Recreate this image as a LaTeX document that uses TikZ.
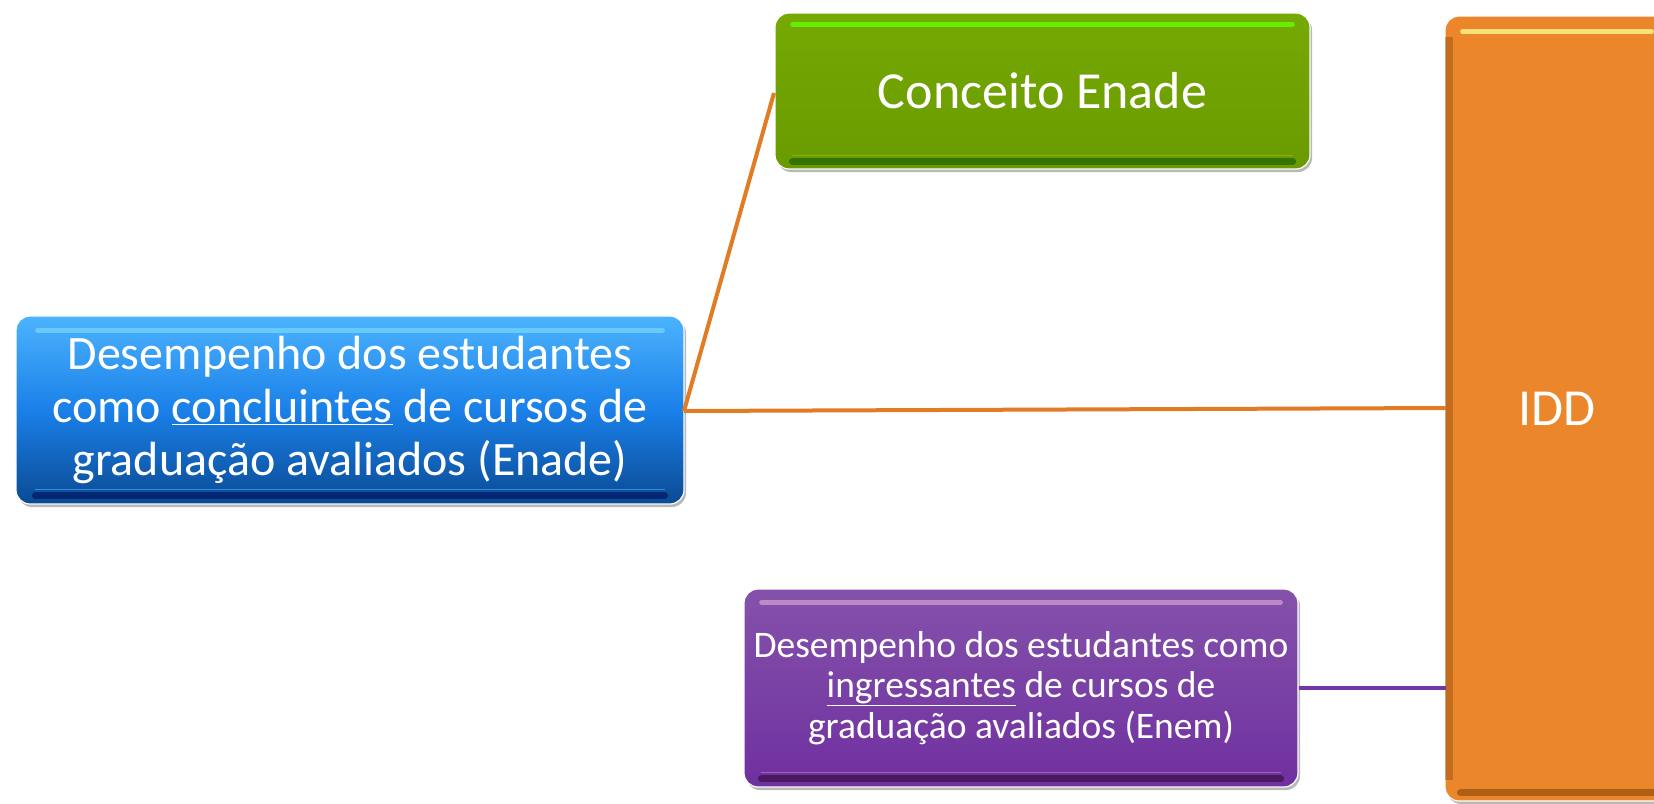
\documentclass[tikz,border=0pt]{standalone}
\usepackage{fontspec}
\setmainfont{Carlito}
\usetikzlibrary{shadows,calc}
\definecolor{bluetop}{HTML}{4CB3FF}
\definecolor{bluemid}{HTML}{1A80E8}
\definecolor{bluebot}{HTML}{0A4A94}
\definecolor{greentop}{HTML}{75A903}
\definecolor{greenbot}{HTML}{699B00}
\definecolor{purptop}{HTML}{8452AA}
\definecolor{purpbot}{HTML}{7030A0}
\definecolor{orangebox}{HTML}{EC862B}
\definecolor{orangeline}{HTML}{E17C25}
\definecolor{purpline}{HTML}{7535A5}
\tikzset{
  boxbase/.style={rectangle, rounded corners=14pt, draw=white, line width=1.2pt,
    text=white, align=center, inner sep=0pt,
    general shadow={shadow xshift=2pt, shadow yshift=-3pt, fill=black, opacity=0.28, scale=1.006}},
  bluebox/.style={boxbase, top color=bluetop, bottom color=bluebot, middle color=bluemid,
    minimum width=668pt, minimum height=188pt, font=\fontsize{48}{53}\selectfont},
  greenbox/.style={boxbase, top color=greentop, bottom color=greenbot,
    minimum width=535pt, minimum height=156pt, font=\fontsize{52}{60}\selectfont},
  purplebox/.style={boxbase, top color=purptop, bottom color=purpbot,
    minimum width=554pt, minimum height=198pt, font=\fontsize{37.5}{40.6}\selectfont},
  orangebox/.style={boxbase, fill=orangebox, minimum width=224pt, minimum height=785pt,
    font=\fontsize{52}{60}\selectfont},
  hilite/.style={line width=4.5pt, line cap=round, opacity=0.8},
  lowband/.style={line width=7pt, line cap=round, opacity=0.5},
  orangeconn/.style={orangeline, line width=4pt},
  purpleconn/.style={purpline, line width=3.5pt}
}
\begin{document}
\begin{tikzpicture}[x=1pt,y=-1pt]
\useasboundingbox (0,0) rectangle (1654,803);
\clip (0,0) rectangle (1654,803);
\fill[white] (0,0) rectangle (1654,803);

\coordinate (j) at (684,411);
\coordinate (gin) at (774,93);
\coordinate (iin) at (1446,408);
\coordinate (iin2) at (1446,688);

\node[orangebox] (idd) at (1557,408.5) {IDD};
\node[bluebox] (enade) at (350,410)
  {Desempenho dos estudantes\\como \underline{concluintes} de cursos de\\graduação avaliados (Enade)};
\node[greenbox] (conc) at (1042.5,91) {Conceito Enade};
\node[purplebox] (enem) at (1021,688)
  {Desempenho dos estudantes como\\\underline{ingressantes} de cursos de\\graduação avaliados (Enem)};

% bevel highlights
\draw[hilite, color=cyan!55!white] ($(enade.north west)+(22,15)$) -- ($(enade.north east)+(-22,15)$);
\draw[lowband, color=black!70!blue] ($(enade.south west)+(20,-9)$) -- ($(enade.south east)+(-20,-9)$);
\draw[line width=1.5pt, color=bluetop, opacity=0.6] ($(enade.south west)+(20,-15)$) -- ($(enade.south east)+(-20,-15)$);

\draw[hilite, color=green!60!yellow] ($(conc.north west)+(18,12)$) -- ($(conc.north east)+(-18,12)$);
\draw[lowband, color=black!70!green] ($(conc.south west)+(18,-8)$) -- ($(conc.south east)+(-18,-8)$);
\draw[line width=1.5pt, color=greentop!70!yellow, opacity=0.6] ($(conc.south west)+(18,-14)$) -- ($(conc.south east)+(-18,-14)$);

\draw[hilite, color=violet!40!white] ($(enem.north west)+(18,14)$) -- ($(enem.north east)+(-18,14)$);
\draw[lowband, color=black!70!violet] ($(enem.south west)+(18,-9)$) -- ($(enem.south east)+(-18,-9)$);
\draw[line width=1.5pt, color=violet!50!white, opacity=0.6] ($(enem.south west)+(18,-15)$) -- ($(enem.south east)+(-18,-15)$);

\draw[hilite, color=yellow!45!white] ($(idd.north west)+(18,16)$) -- ($(idd.north east)+(-18,16)$);
\draw[line width=8pt, color=black!60!orange, opacity=0.3] ($(idd.north west)+(5,22)$) -- ($(idd.south west)+(5,-22)$);
\draw[lowband, color=black!55!orange] ($(idd.south west)+(16,-9)$) -- ($(idd.south east)+(-16,-9)$);

% connectors
\draw[orangeconn] (j) -- (gin);
\draw[orangeconn] (j) -- (iin);
\draw[purpleconn] (enem.east) -- (iin2);
\end{tikzpicture}
\end{document}
